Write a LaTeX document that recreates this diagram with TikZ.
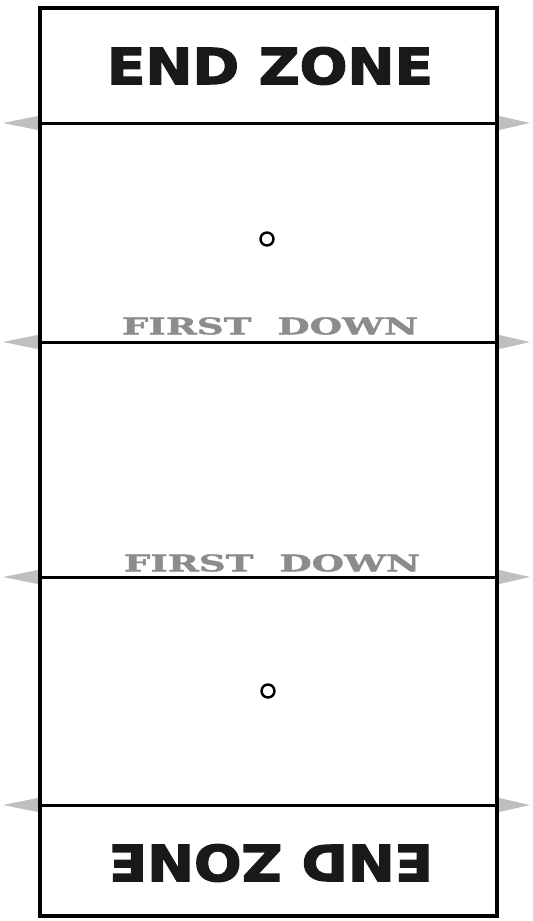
\documentclass[tikz,border=0pt]{standalone}
\usepackage{fontspec}
\setmainfont{DejaVu Sans}
\newfontfamily\zonefont[FakeBold=2.5]{DejaVu Sans Bold}
\newfontfamily\downfont[FakeBold=1.5]{DejaVu Serif Bold}
\begin{document}
\begin{tikzpicture}[x=0.5pt, y=-0.5pt,
    yardline/.style={line width=1.5pt, black},
    marker/.style={fill=black!25, draw=none},
    zonetext/.style={inner sep=0pt, text=black!90},
    downtext/.style={inner sep=0pt, text=black!45}]
                \useasboundingbox (0,0) rectangle (532,921);

                % Markers at the lines
                \foreach \y in {123, 342, 577, 805} {
                    \fill[marker] (40,\y-7.5) -- (3,\y) -- (40,\y+7.5) -- cycle;
                    \fill[marker] (497,\y-7.5) -- (530,\y) -- (497,\y+7.5) -- cycle;
                    \draw[yardline] (40,\y) -- (497,\y);
                }

                % Field
                \draw[line width=2pt] (40,8) rectangle (497,916);

                % End zones
                \node[zonetext] (topzone) at (270,66) {\resizebox{163pt}{18.5pt}{\zonefont END ZONE}};
                \node[zonetext, rotate=180] (bottomzone) at (271,863) {\resizebox{162pt}{18.5pt}{\zonefont END ZONE}};

                % First down texts
                \node[downtext] (downone) at (270,326) {\resizebox{148pt}{8.5pt}{\downfont FIRST\ \ DOWN}};
                \node[downtext] (downtwo) at (272,563) {\resizebox{148pt}{8.5pt}{\downfont FIRST\ \ DOWN}};

                % Spots
                \draw[line width=1.2pt] (267,239) circle (6.5);
                \draw[line width=1.2pt] (268,691) circle (6.5);
            \end{tikzpicture}
\end{document}
